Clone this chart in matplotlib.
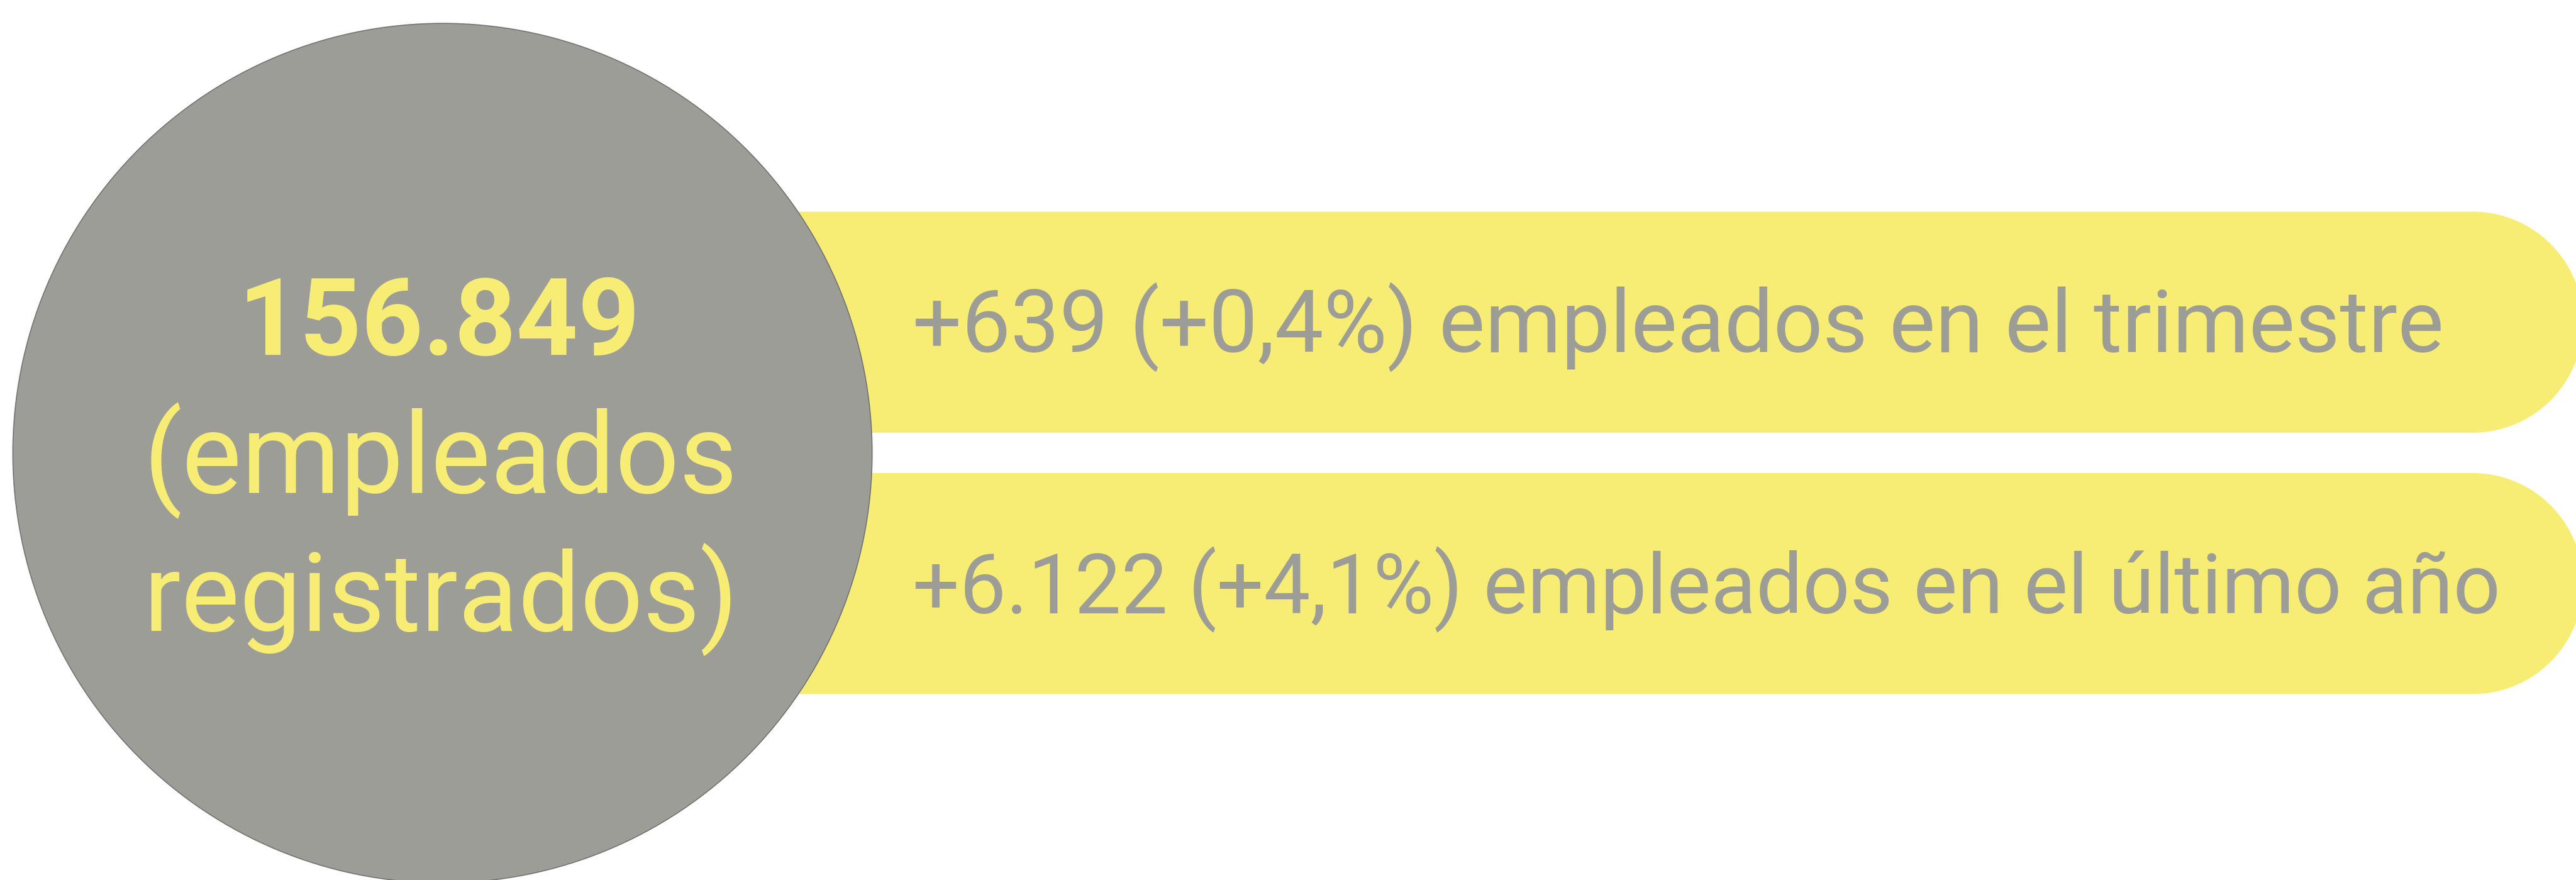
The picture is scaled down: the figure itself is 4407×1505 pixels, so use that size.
import matplotlib

matplotlib.use("Agg")
import matplotlib.pyplot as plt
from matplotlib.patches import Circle, Rectangle

# data
total_empleados = 156849
cambio_abs = [639, 6122]
cambio_pct = [0.4, 4.1]
periodos = ["en el trimestre", "en el último año"]

YELLOW = "#F7ED74"
GRAY = "#9D9D98"
EDGE = "#707070"
FONT = "Roboto"

W, H = 4407, 1505


def fmt_miles(n):
    return f"{n:,}".replace(",", ".")


def fmt_pct(p):
    return f"{p:.1f}".replace(".", ",")


def fit_width(t, target, renderer):
    # scale fontsize so the rendered text spans `target` pixels
    bb = t.get_window_extent(renderer=renderer)
    t.set_fontsize(t.get_fontsize() * target / bb.width)


fig = plt.figure(figsize=(W / 100, H / 100), dpi=100)
ax = fig.add_axes([0, 0, 1, 1])
ax.set_xlim(0, W)
ax.set_ylim(H, 0)
ax.axis("off")

# bars: rectangle + half circle on the right, clipped by the figure edge
bar_tops = [362, 809]
bar_h = 378
x_flat = 4230
for top in bar_tops:
    ax.add_patch(Rectangle((1000, top), x_flat - 1000, bar_h,
                           fc=YELLOW, ec="none", zorder=1))
    ax.add_patch(Circle((x_flat, top + bar_h / 2), bar_h / 2,
                        fc=YELLOW, ec="none", zorder=1))

# big circle
ax.add_patch(Circle((757, 775), 735, fc=GRAY, ec=EDGE, lw=1.2, zorder=2))

fig.canvas.draw()
r = fig.canvas.get_renderer()

labels = [f"+{fmt_miles(a)} (+{fmt_pct(p)}%) empleados {per}"
          for a, p, per in zip(cambio_abs, cambio_pct, periodos)]
ends = [4180, 4276]
baselines = [602, 1049]
for lab, x1, yb in zip(labels, ends, baselines):
    t = ax.text(1561, yb, lab, color=GRAY, fontsize=100, family=FONT,
                ha="left", va="baseline", zorder=3)
    fit_width(t, x1 - 1561, r)

t = ax.text(752, 607, fmt_miles(total_empleados), color=YELLOW, fontsize=150,
            family=FONT, weight="bold", ha="center", va="baseline", zorder=3)
fit_width(t, 687, r)
for s, yb in [("(empleados", 843), ("registrados)", 1079)]:
    t = ax.text(754, yb, s, color=YELLOW, fontsize=150, family=FONT,
                ha="center", va="baseline", zorder=3)
    fit_width(t, 1017, r)

fig.savefig("out.png", dpi=100, facecolor="white")
